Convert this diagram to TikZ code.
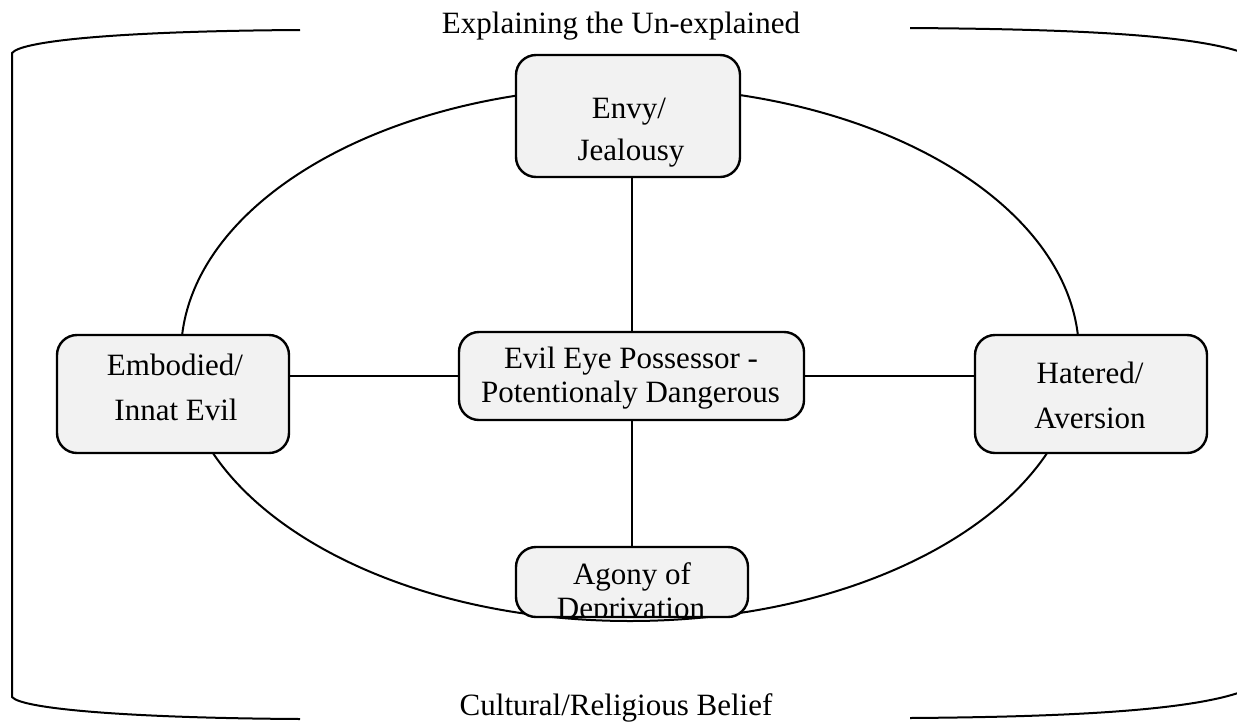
\documentclass[tikz,border=0pt]{standalone}
\usepackage{fontspec}
\setmainfont{Liberation Serif}
\definecolor{boxgray}{HTML}{F2F2F2}
\begin{document}
\begin{tikzpicture}[x=1pt,y=-1pt,
  box/.style={draw, line width=2.4pt, rounded corners=20pt, fill=boxgray, inner sep=0pt},
  lbl/.style={font=\fontsize{31}{31}\selectfont, anchor=base, inner sep=0pt},
  ttl/.style={font=\fontsize{31}{31}\selectfont, anchor=base, inner sep=0pt},
  conn/.style={line width=2pt}]
\useasboundingbox (0,0) rectangle (1237,721);

% outer bracket
\draw[conn] (300,30) .. controls (130,31) and (22,40) .. (12,53) -- (12,697)
  .. controls (22,709) and (130,718) .. (300,719);
\draw[conn] (910,28) .. controls (1050,29) and (1180,33) .. (1238,51);
\draw[conn] (910,718) .. controls (1050,717) and (1180,712) .. (1238,693);

\node[ttl] (t1) at (621,33) {Explaining the Un-explained};
\node[ttl] (t2) at (616,715) {Cultural/Religious Belief};

% ellipse
\draw[conn] (630,354) ellipse [x radius=449, y radius=267];

% boxes
\node[box, minimum width=224pt, minimum height=122pt] (env) at (628,116) {};
\node[box, minimum width=232pt, minimum height=118pt] (emb) at (173,394) {};
\node[box, minimum width=232pt, minimum height=118pt] (hat) at (1091,394) {};
\node[box, minimum width=345pt, minimum height=88pt] (ctr) at (631.5,376) {};
\node[box, minimum width=232pt, minimum height=70pt] (ago) at (632,582) {};

% connectors
\draw[conn] (ctr.north) -- (ctr.north |- env.south);
\draw[conn] (ctr.south) -- (ctr.south |- ago.north);
\draw[conn] (ctr.west) -- (ctr.west -| emb.east);
\draw[conn] (ctr.east) -- (ctr.east -| hat.west);

% labels
\node[lbl] (envA) at (629,118) {Envy/};
\node[lbl] (envB) at (631,160) {Jealousy};
\node[lbl] (embA) at (175,375) {Embodied/};
\node[lbl] (embB) at (176,420) {Innat Evil};
\node[lbl] (hatA) at (1090,383) {Hatered/};
\node[lbl] (hatB) at (1090,428) {Aversion};
\node[lbl] (ctrA) at (631,368) {Evil Eye Possessor -};
\node[lbl] (ctrB) at (630.5,402) {Potentionaly Dangerous};
\node[lbl] (agoA) at (632,584) {Agony of};
\begin{scope}
\clip (517,548) rectangle (747,615.5);
\node[lbl] (agoB) at (631,618.5) {Deprivation};
\end{scope}
\end{tikzpicture}
\end{document}
